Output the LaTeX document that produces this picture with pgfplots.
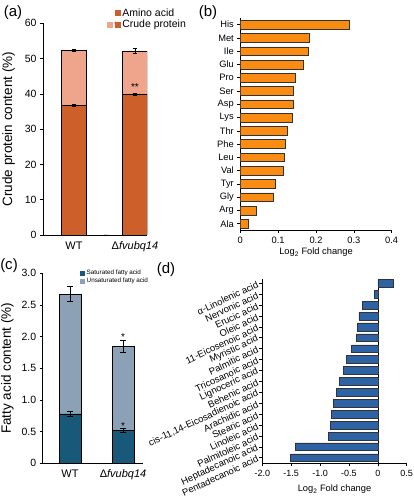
\documentclass[border=0pt]{standalone}
\usepackage{fontspec}
\setmainfont{Liberation Sans}
\usepackage{pgfplots}
\pgfplotsset{compat=1.18}
\definecolor{amino}{RGB}{205,96,42}
\definecolor{crude}{RGB}{239,165,140}
\definecolor{borange}{RGB}{250,140,20}
\definecolor{satC}{RGB}{24,88,120}
\definecolor{unsatC}{RGB}{140,161,182}
\definecolor{dblue}{RGB}{45,98,165}
\pgfplotsset{
  common/.style={
    scale only axis, anchor=south west,
    axis x line*=bottom, axis y line*=left,
    axis line style={line width=0.7pt},
    tick align=outside, major tick length=3pt,
    tick style={black, line width=0.6pt},
    /pgf/number format/assume math mode=true,
    tick label style={font=\fontsize{10.5}{12}\selectfont},
    label style={font=\fontsize{13.5}{15}\selectfont},
  }
}
\begin{document}
\begin{tikzpicture}
\useasboundingbox (0pt,0pt) rectangle (413pt,500pt);
% ---------------- (a)
\begin{axis}[common, at={(43pt,265pt)}, width=104pt, height=211.7pt,
  xmin=-0.508, xmax=1.197, ymin=0, ymax=60,
  ytick={0,10,20,30,40,50,60},
  xtick={0,1}, xticklabels={WT, Δ\textit{fvubq14}},
  xtick style={draw=none},
  xticklabel style={font=\fontsize{11}{12}\selectfont},
  ylabel={Crude protein content (\%)},
  ylabel style={yshift=3pt},
  reverse legend,
  legend style={draw=none, fill=none, at={(0.60,1.085)}, anchor=north west,
    font=\fontsize{10.5}{12}\selectfont, row sep=-1.5pt, inner sep=1pt},
  legend cell align=left,
]
\addplot[ybar, bar width=25pt, bar shift=0pt, fill=crude, draw=black, line width=0.5pt,
  legend image code/.code={
    \fill[crude] (0pt,-2.6pt) rectangle (5.2pt,2.6pt);
    \node[inner sep=0pt, font=\fontsize{6}{6}\selectfont] at (6.6pt,0pt) {+};
    \fill[amino] (8pt,-2.6pt) rectangle (13.2pt,2.6pt);}]
  coordinates {(0,52.4) (1,52.2)};
\addlegendentry{Crude protein}
\addplot[ybar, bar width=25pt, bar shift=0pt, fill=amino, draw=black, line width=0.5pt,
  legend image code/.code={\fill[amino] (8pt,-2.6pt) rectangle (13.2pt,2.6pt);}]
  coordinates {(0,36.8) (1,40.0)};
\addlegendentry{Amino acid}
\addplot[draw=none, forget plot, error bars/.cd, y dir=both, y explicit,
  error bar style={draw=black, line width=0.6pt},
  error mark options={draw=black, rotate=90, mark size=2.4pt, line width=0.6pt}]
  coordinates {(0,52.4) +- (0,0.3) (1,52.2) +- (0,0.7) (0,36.8) +- (0,0.2) (1,40.0) +- (0,0.3)};
\node[font=\fontsize{10}{10}\selectfont] at (axis cs:1,41.9) {**};
\draw[line width=0.6pt] (axis cs:0.5,0) -- ++(0,-3pt);
\end{axis}
\node[font=\fontsize{15}{17}\selectfont] at (13pt,487pt) {(a)};
% ---------------- (b)
\begin{axis}[common, at={(240.3pt,270pt)}, width=151.4pt, height=211.7pt,
  xmin=0, xmax=0.4, ymin=-0.475, ymax=15.48,
  tick label style={font=\fontsize{9.3}{11}\selectfont},
  xtick={0,0.1,0.2,0.3,0.4}, xticklabels={0,0.1,0.2,0.3,0.4},
  ytick={0,...,15},
  yticklabels={Ala,Arg,Gly,Tyr,Val,Leu,Phe,Thr,Lys,Asp,Ser,Pro,Glu,Ile,Met,His},
  xlabel={Log\textsubscript{2} Fold change},
  xlabel style={font=\fontsize{9.3}{11}\selectfont, yshift=2pt},
]
\addplot[xbar, bar width=8.7pt, bar shift=0pt, fill=borange, draw=black!80, line width=0.5pt]
  coordinates {(0.021,0) (0.041,1) (0.088,2) (0.093,3) (0.114,4) (0.116,5) (0.119,6) (0.125,7)
    (0.137,8) (0.140,9) (0.140,10) (0.144,11) (0.167,12) (0.179,13) (0.183,14) (0.287,15)};
\end{axis}
\node[font=\fontsize{15}{17}\selectfont] at (208pt,487pt) {(b)};
% ---------------- (c)
\begin{axis}[common, at={(42.7pt,36.7pt)}, width=100.3pt, height=190pt,
  xmin=-0.515, xmax=1.377, ymin=0, ymax=3,
  ytick={0,0.5,1,1.5,2,2.5,3}, yticklabels={0,0.5,1.0,1.5,2.0,2.5,3.0},
  xtick={0,1}, xticklabels={WT, Δ\textit{fvubq14}},
  xtick style={draw=none},
  xticklabel style={font=\fontsize{11}{12}\selectfont},
  ylabel={Fatty acid content (\%)},
  ylabel style={yshift=1pt},
  reverse legend,
  legend style={draw=none, fill=none, at={(0.36,1.035)}, anchor=north west,
    font=\fontsize{6.3}{7}\selectfont, row sep=-1.5pt, inner sep=1pt},
  legend cell align=left,
]
\addplot[ybar, bar width=22pt, bar shift=0pt, fill=unsatC, draw=black, line width=0.5pt,
  legend image code/.code={\fill[unsatC] (0pt,-2.1pt) rectangle (4.2pt,2.1pt);}]
  coordinates {(0,2.67) (1,1.85)};
\addlegendentry{Unsaturated fatty acid}
\addplot[ybar, bar width=22pt, bar shift=0pt, fill=satC, draw=black, line width=0.5pt,
  legend image code/.code={\fill[satC] (0pt,-2.1pt) rectangle (4.2pt,2.1pt);}]
  coordinates {(0,0.78) (1,0.52)};
\addlegendentry{Saturated fatty acid}
\addplot[draw=none, forget plot, error bars/.cd, y dir=both, y explicit,
  error bar style={draw=black, line width=0.6pt},
  error mark options={draw=black, rotate=90, mark size=3.2pt, line width=0.6pt}]
  coordinates {(0,2.67) +- (0,0.12) (1,1.85) +- (0,0.09) (0,0.78) +- (0,0.04) (1,0.52) +- (0,0.03)};
\node[font=\fontsize{10}{10}\selectfont] at (axis cs:1,2.0) {*};
\node[font=\fontsize{10}{10}\selectfont] at (axis cs:1,0.59) {*};
\draw[line width=0.6pt] (axis cs:0.5,0) -- ++(0,-3pt);
\end{axis}
\node[font=\fontsize{15}{17}\selectfont] at (9pt,234pt) {(c)};
% ---------------- (d)
\begin{axis}[common, at={(262.3pt,36.7pt)}, width=144.4pt, height=184.3pt,
  xmin=-2, xmax=0.5, ymin=-0.51, ymax=16.39,
  tick label style={font=\fontsize{9}{10}\selectfont},
  xtick={-2,-1.5,-1,-0.5,0,0.5}, xticklabels={-2.0,-1.5,-1.0,-0.5,0,0.5},
  extra x ticks={0}, extra x tick labels={},
  extra x tick style={grid=major, major grid style={black, line width=0.6pt}},
  ytick={0,...,16},
  yticklabels={Pentadecanoic acid, Heptadecanoic acid, Palmitoleic acid, Linoleic acid,
    Stearic acid, Arachidic acid, {cis-11,14-Eicosadienoic acid}, Behenic acid, Lignoceric acid,
    Tricosanoic acid, Palmitic acid, Myristic acid, 11-Eicosenoic acid, Oleic acid,
    Erucic acid, Nervonic acid, α-Linolenic acid},
  yticklabel style={rotate=25, anchor=east, font=\fontsize{9.5}{10}\selectfont, inner sep=1.5pt},
  xlabel={Log\textsubscript{2} Fold change},
  xlabel style={font=\fontsize{9.3}{11}\selectfont, yshift=4pt},
]
\addplot[xbar, bar width=7.8pt, bar shift=0pt, fill=dblue, draw=black!80, line width=0.5pt]
  coordinates {(-1.51,0) (-1.43,1) (-0.86,2) (-0.82,3) (-0.80,4) (-0.77,5) (-0.72,6) (-0.66,7)
    (-0.60,8) (-0.55,9) (-0.46,10) (-0.37,11) (-0.36,12) (-0.33,13) (-0.27,14) (-0.06,15) (0.27,16)};
\end{axis}
\node[font=\fontsize{15}{17}\selectfont] at (166pt,230pt) {(d)};
\end{tikzpicture}
\end{document}
